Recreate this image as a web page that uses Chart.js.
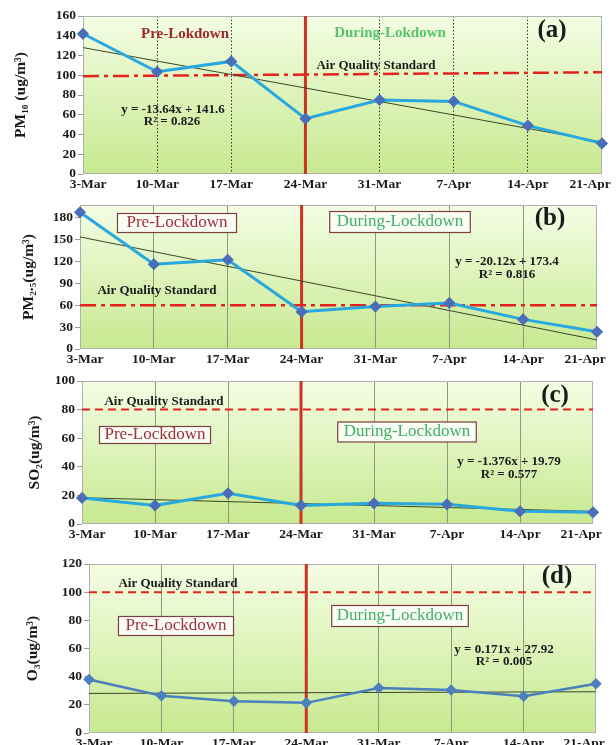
<!DOCTYPE html>
<html>
<head>
<meta charset="utf-8">
<script src="https://cdn.jsdelivr.net/npm/chart.js@4.4.1/dist/chart.umd.min.js"></script>
<style>
  body { margin: 0; background: #fff; width: 616px; height: 745px; overflow: hidden; position: relative; }
  canvas { position: absolute; left: 0; }
</style>
</head>
<body>
<canvas id="chartA" width="616" height="190" style="top:0px"></canvas>
<canvas id="chartB" width="616" height="175" style="top:190px"></canvas>
<canvas id="chartC" width="616" height="175" style="top:365px"></canvas>
<canvas id="chartD" width="616" height="205" style="top:540px"></canvas>
<script>
// weekly dates
const dates = ['3-Mar', '10-Mar', '17-Mar', '24-Mar', '31-Mar', '7-Apr', '14-Apr', '21-Apr'];

// concentrations (ug/m3)
const pm10 = [142, 103.5, 114, 56, 75, 73.5, 49, 31];
const pm25 = [187, 116, 122, 51, 58, 63, 40.5, 23.5];
const so2 = [18.2, 13, 21.5, 13, 14.5, 13.8, 8.9, 8.2];
const o3 = [38, 26.4, 22.6, 21.4, 32, 30.6, 26.1, 35];

// linear trend, start (3-Mar) and end (21-Apr)
const pm10Trend = [128, 32.5];
const pm25Trend = [153.3, 12.4];
const so2Trend = [18.4, 8.8];
const o3Trend = [28.1, 29.3];

// air quality standard line, start and end
const pm10Std = [99, 103];
const pm25Std = [60, 60];
const so2Std = [80, 80];
const o3Std = [100, 100];

// y axis ticks
const pm10Ticks = [0, 20, 40, 60, 80, 100, 120, 140, 160];
const pm25Ticks = [0, 30, 60, 90, 120, 150, 180];
const so2Ticks = [0, 20, 40, 60, 80, 100];
const o3Ticks = [0, 20, 40, 60, 80, 100, 120];

// equations
const pm10Eq = ['y = -13.64x + 141.6', 'R² = 0.826'];
const pm25Eq = ['y = -20.12x + 173.4', 'R² = 0.816'];
const so2Eq = ['y = -1.376x + 19.79', 'R² = 0.577'];
const o3Eq = ['y = 0.171x + 27.92', 'R² = 0.005'];

const SERIF = "'Liberation Serif', 'Times New Roman', serif";
Chart.defaults.font.family = SERIF;
Chart.defaults.color = '#1a1a1a';

const panelDeco = {
  id: 'panelDeco',
  beforeDraw(chart) {
    const { ctx, chartArea: a } = chart;
    const g = ctx.createLinearGradient(0, a.top, 0, a.bottom);
    g.addColorStop(0, '#f4fde4');
    g.addColorStop(1, '#c7e990');
    ctx.save();
    ctx.fillStyle = g;
    ctx.fillRect(a.left, a.top, a.right - a.left, a.bottom - a.top);
    ctx.restore();
  },
  beforeDatasetsDraw(chart, args, o) {
    const { ctx, chartArea: a } = chart;
    ctx.save();
    ctx.strokeStyle = '#b0b0b0';
    ctx.lineWidth = 1;
    ctx.strokeRect(a.left + 0.5, a.top + 0.5, a.right - a.left - 1, a.bottom - a.top - 1);
    // lockdown start
    const x = chart.scales.x.getPixelForValue(o.split);
    ctx.strokeStyle = '#cc3326';
    ctx.lineWidth = 3;
    ctx.beginPath();
    ctx.moveTo(x, a.top);
    ctx.lineTo(x, a.bottom);
    ctx.stroke();
    ctx.restore();
  },
  afterDraw(chart, args, o) {
    const ctx = chart.ctx;
    ctx.save();
    ctx.textAlign = 'center';
    ctx.textBaseline = 'middle';
    o.texts.forEach(t => {
      ctx.font = t.font;
      const y = t.y - o.top;
      if (t.box) {
        const w = ctx.measureText(t.text).width + t.box * 2;
        const h = t.h || 20;
        ctx.fillStyle = '#fafdf4';
        ctx.strokeStyle = '#7d4040';
        ctx.lineWidth = 1.2;
        ctx.fillRect(t.x - w / 2, y - h / 2, w, h);
        ctx.strokeRect(t.x - w / 2, y - h / 2, w, h);
      }
      ctx.fillStyle = t.color || '#1a1a1a';
      ctx.fillText(t.text, t.x, y);
    });
    ctx.restore();
  }
};

function makePanel(id, cfg) {
  const ep = (a) => [{ x: dates[0], y: a[0] }, { x: dates[dates.length - 1], y: a[1] }];
  const last = dates.length - 1;
  return new Chart(document.getElementById(id), {
    type: 'line',
    data: {
      labels: dates,
      datasets: [
        {
          data: ep(cfg.std),
          borderColor: '#e3231c',
          borderWidth: cfg.stdWidth,
          borderDash: cfg.stdDash,
          pointRadius: 0,
          order: 3
        },
        {
          data: ep(cfg.trend),
          borderColor: '#3c4628',
          borderWidth: 1,
          pointRadius: 0,
          order: 2
        },
        {
          data: cfg.values,
          borderColor: cfg.lineColor,
          borderWidth: cfg.lineWidth,
          pointStyle: 'rectRot',
          pointRadius: 4,
          pointBackgroundColor: cfg.pointColor,
          pointBorderColor: cfg.pointColor,
          tension: 0,
          order: 1
        }
      ]
    },
    options: {
      responsive: false,
      animation: false,
      events: [],
      layout: { padding: { top: cfg.padTop, right: cfg.padRight, left: 0, bottom: 0 } },
      plugins: {
        legend: { display: false },
        tooltip: { enabled: false },
        panelDeco: { split: 3, top: cfg.top, texts: cfg.texts }
      },
      scales: {
        x: {
          offset: false,
          grid: {
            color: c => (c.index === 0 || c.index === last) ? 'rgba(0,0,0,0)' : cfg.gridColor,
            lineWidth: 1,
            drawTicks: false
          },
          border: { display: false, dash: cfg.gridDash },
          ticks: {
            padding: 2,
            maxRotation: 0,
            autoSkip: false,
            font: { size: 13.5, weight: 'bold' },
            color: '#1a1a1a',
            // edge labels sit a little inside the plot, as in the source figure
            callback: (v, i) => i === 0 ? '   ' + dates[i] : (i === last ? dates[i] + '       ' : dates[i])
          },
          afterFit: s => { s.height = cfg.xHeight; s.paddingLeft = 0; s.paddingRight = 0; }
        },
        y: {
          min: 0,
          max: cfg.max,
          afterBuildTicks: s => { s.ticks = cfg.ticks.map(v => ({ value: v })); },
          grid: { drawOnChartArea: false, drawTicks: true, tickLength: 5, color: '#9a9a9a' },
          border: { display: false },
          ticks: {
            padding: 2,
            font: { size: 13.5, weight: 'bold' },
            color: '#1a1a1a'
          },
          title: {
            display: true,
            text: cfg.title,
            font: { size: 15.5, weight: 'bold' },
            color: '#1a1a1a',
            padding: { top: cfg.titlePad, bottom: 0 }
          },
          afterFit: s => { s.width = cfg.left; s.paddingTop = 0; s.paddingBottom = 0; }
        }
      }
    },
    plugins: [panelDeco]
  });
}

const boldLbl = 'bold 15px ' + SERIF;
const boxLbl = '17px ' + SERIF;
const tagLbl = 'bold 25px ' + SERIF;
const aqsLbl = 'bold 13px ' + SERIF;
const eqLbl = 'bold 13px ' + SERIF;

makePanel('chartA', {
  top: 0, left: 83, padTop: 16, padRight: 14, xHeight: 16, titlePad: 12,
  values: pm10, trend: pm10Trend, std: pm10Std, ticks: pm10Ticks, max: 160,
  title: 'PM₁₀ (ug/m³)',
  lineColor: '#27a8de', lineWidth: 3, pointColor: '#4a6fb8',
  stdDash: [16, 5, 4, 5], stdWidth: 2.5,
  gridColor: '#333333', gridDash: [1.5, 2],
  texts: [
    { text: 'Pre-Lokdown', x: 185, y: 34, font: boldLbl, color: '#9e2a2e' },
    { text: 'During-Lokdown', x: 390, y: 33, font: boldLbl, color: '#58c46f' },
    { text: '(a)', x: 552, y: 31, font: tagLbl },
    { text: 'Air Quality Standard', x: 376, y: 66, font: aqsLbl },
    { text: pm10Eq[0], x: 173, y: 110, font: eqLbl },
    { text: pm10Eq[1], x: 172, y: 122, font: eqLbl }
  ]
});

makePanel('chartB', {
  top: 190, left: 80, padTop: 15, padRight: 19, xHeight: 16, titlePad: 20,
  values: pm25, trend: pm25Trend, std: pm25Std, ticks: pm25Ticks, max: 197,
  title: 'PM₂.₅(ug/m³)',
  lineColor: '#27a8de', lineWidth: 3, pointColor: '#4a6fb8',
  stdDash: [16, 5, 4, 5], stdWidth: 2.5,
  gridColor: '#8e9a80', gridDash: [],
  texts: [
    { text: 'Pre-Lockdown', x: 177, y: 223, font: boxLbl, color: '#a0303e', box: 9, h: 19 },
    { text: 'During-Lockdown', x: 400, y: 222, font: boxLbl, color: '#3fae68', box: 7, h: 21 },
    { text: '(b)', x: 550, y: 219, font: tagLbl },
    { text: 'Air Quality Standard', x: 157, y: 291, font: aqsLbl },
    { text: pm25Eq[0], x: 507, y: 262, font: eqLbl },
    { text: pm25Eq[1], x: 507, y: 275, font: eqLbl }
  ]
});

makePanel('chartC', {
  top: 365, left: 82, padTop: 16, padRight: 23, xHeight: 16, titlePad: 26,
  values: so2, trend: so2Trend, std: so2Std, ticks: so2Ticks, max: 100,
  title: 'SO₂(ug/m³)',
  lineColor: '#27a8de', lineWidth: 3, pointColor: '#4a6fb8',
  stdDash: [8, 5], stdWidth: 2,
  gridColor: '#8e9a80', gridDash: [],
  texts: [
    { text: 'Air Quality Standard', x: 164, y: 402, font: aqsLbl },
    { text: 'Pre-Lockdown', x: 155, y: 435, font: boxLbl, color: '#a0303e', box: 5, h: 17 },
    { text: 'During-Lockdown', x: 407, y: 432, font: boxLbl, color: '#3fae68', box: 6, h: 20 },
    { text: '(c)', x: 555, y: 396, font: tagLbl },
    { text: so2Eq[0], x: 509, y: 462, font: eqLbl },
    { text: so2Eq[1], x: 509, y: 475, font: eqLbl }
  ]
});

makePanel('chartD', {
  top: 540, left: 89, padTop: 24, padRight: 20, xHeight: 12, titlePad: 24,
  values: o3, trend: o3Trend, std: o3Std, ticks: o3Ticks, max: 120,
  title: 'O₃(ug/m³)',
  lineColor: '#4b7fbd', lineWidth: 2.5, pointColor: '#4b7fbd',
  stdDash: [8, 5], stdWidth: 2,
  gridColor: '#8e9a80', gridDash: [],
  texts: [
    { text: 'Air Quality Standard', x: 178, y: 584, font: aqsLbl },
    { text: 'Pre-Lockdown', x: 176, y: 626, font: boxLbl, color: '#a0303e', box: 7, h: 19 },
    { text: 'During-Lockdown', x: 400, y: 616, font: boxLbl, color: '#3fae68', box: 5, h: 21 },
    { text: '(d)', x: 557, y: 577, font: tagLbl },
    { text: o3Eq[0], x: 504, y: 650, font: eqLbl },
    { text: o3Eq[1], x: 504, y: 662, font: eqLbl }
  ]
});
</script>
</body>
</html>
